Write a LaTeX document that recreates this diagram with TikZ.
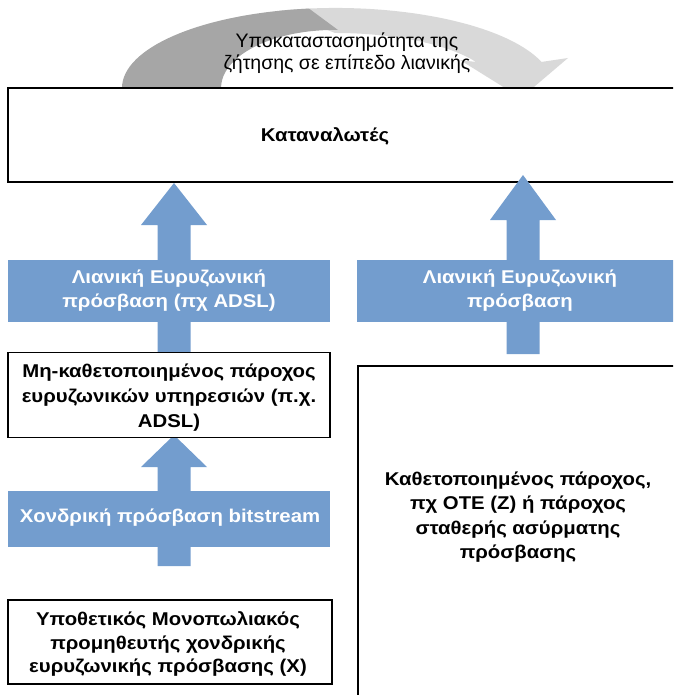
\documentclass[tikz,border=0pt]{standalone}
\usepackage{fontspec}
\setmainfont{Liberation Sans}
\newfontfamily\boxfont{Liberation Sans}[FakeStretch=1.1]
\usetikzlibrary{calc}
\definecolor{arrowblue}{HTML}{739DCE}
\definecolor{arcdark}{HTML}{A6A6A6}
\definecolor{arclight}{HTML}{D9D9D9}
\newcommand{\blockup}[3]{% #1 base coord, #2 tip coord, #3 head length
  \fill[arrowblue] ($(#1)+(-16.5,0)$) -- ($(#2)+(-16.5,#3)$) -- ($(#2)+(-33,#3)$) -- (#2)
    -- ($(#2)+(33,#3)$) -- ($(#2)+(16.5,#3)$) -- ($(#1)+(16.5,0)$) -- cycle;}
\begin{document}
\begin{tikzpicture}[x=1pt,y=-1pt,
  box/.style={draw=black,line width=1.8pt,fill=white,inner sep=0pt},
  boxtext/.style={align=center,inner sep=0pt,font=\boxfont\bfseries\fontsize{18.5}{25}\selectfont},
  banner/.style={fill=arrowblue,inner sep=0pt},
  bannertext/.style={text=white,align=center,inner sep=0pt,font=\boxfont\bfseries\fontsize{18.5}{24}\selectfont},
  arctext/.style={align=center,inner sep=0pt,font=\fontsize{19.5}{22.5}\selectfont}
]
\clip (0,0) rectangle (673,695);
% curved arrow
\fill[arclight] (279,10.7) arc[start angle=-105,end angle=-19,x radius=218,y radius=80]
  -- (568,58) -- (521,98) -- (460,60)
  -- (476,62) arc[start angle=-28.2,end angle=-90,x radius=160,y radius=55] -- cycle;
\fill[arcdark] (122,88) arc[start angle=180,end angle=263,x radius=213,y radius=80]
  -- (338,30) arc[start angle=272,end angle=180,x radius=113,y radius=58] -- cycle;
\node[arctext] (subst) at (347,53) {Υποκαταστασημότητα της\\ζήτησης σε επίπεδο λιανικής};
% consumers box
\node[box,minimum width=682,minimum height=94] (cons) at (349,135) {};
\node[boxtext] (consl) at (325,136) {Καταναλωτές};
% coordinates for block arrows
\coordinate (a1b) at (174,354);
\coordinate (a1t) at (174,183);
\coordinate (a2b) at (523,354);
\coordinate (a2t) at (523,175);
\coordinate (a3b) at (174,566);
\coordinate (a3t) at (174,435);
\blockup{a1b}{a1t}{42}
\blockup{a2b}{a2t}{45}
\blockup{a3b}{a3t}{32}
% banners
\node[banner,minimum width=322,minimum height=62] (ret1) at (169,291) {};
\node[bannertext] (ret1l) at (169,291) {Λιανική Ευρυζωνική\\πρόσβαση (πχ ADSL)};
\node[banner,minimum width=330,minimum height=62] (ret2) at (522,291) {};
\node[bannertext] (ret2l) at (520,291) {Λιανική Ευρυζωνική\\πρόσβαση};
\node[banner,minimum width=322,minimum height=56] (whole) at (169,519) {};
\node[bannertext] (wholel) at (170,518) {Χονδρική πρόσβαση bitstream};
% provider boxes
\node[box,minimum width=322,minimum height=85] (mh) at (169,395) {};
\node[boxtext] (mhl) at (169,398) {Μη-καθετοποιημένος πάροχος\\ευρυζωνικών υπηρεσιών (π.χ.\\ADSL)};
\node[box,minimum width=324,minimum height=84] (hyp) at (170,642) {};
\node[boxtext,font=\boxfont\bfseries\fontsize{18.5}{23.5}\selectfont] (hypl) at (168,644) {Υποθετικός Μονοπωλιακός\\προμηθευτής χονδρικής\\ευρυζωνικής πρόσβασης (Χ)};
\node[box,minimum width=330,minimum height=340] (vert) at (523,536) {};
\node[boxtext,font=\boxfont\bfseries\fontsize{18.5}{24.5}\selectfont] (vertl) at (518,517) {Καθετοποιημένος πάροχος,\\πχ ΟΤΕ (Ζ) ή πάροχος\\σταθερής ασύρματης\\πρόσβασης};
\end{tikzpicture}
\end{document}
